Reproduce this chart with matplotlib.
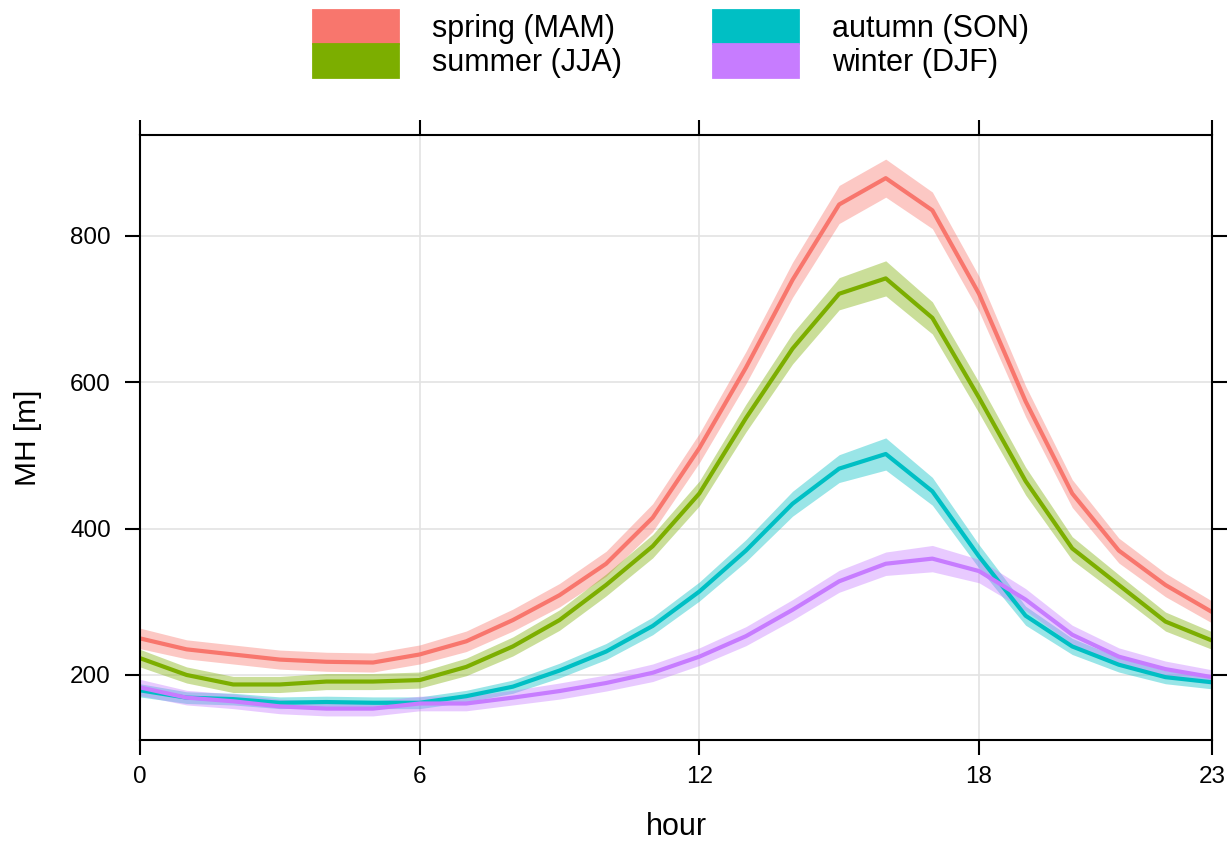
import numpy as np
import matplotlib.pyplot as plt
from matplotlib.patches import Patch

hours = list(range(24))

spring = [250, 235, 228, 221, 218, 217, 228, 246, 275, 309, 352, 415,
          510, 620, 740, 843, 879, 835, 721, 574, 448, 370, 323, 286]
summer = [223, 200, 187, 187, 191, 191, 193, 211, 239, 275, 323, 376,
          448, 551, 646, 721, 742, 688, 579, 465, 373, 323, 273, 247]
autumn = [179, 169, 167, 162, 163, 162, 162, 171, 184, 206, 232, 267,
          314, 370, 434, 482, 502, 451, 362, 281, 239, 214, 197, 190]
winter = [183, 169, 164, 157, 154, 154, 161, 161, 169, 178, 189, 203,
          225, 253, 289, 328, 352, 359, 342, 303, 255, 225, 208, 197]

# half widths of the confidence bands
spring_ci = [14, 13, 13, 13, 13, 13, 13, 14, 15, 16, 17, 19,
             20, 22, 24, 26, 26, 25, 24, 21, 19, 17, 16, 15]
summer_ci = [12, 11, 11, 11, 11, 11, 11, 12, 13, 14, 15, 16,
             17, 19, 21, 22, 24, 22, 21, 19, 16, 14, 13, 12]
autumn_ci = [9, 8, 8, 8, 8, 8, 8, 8, 9, 10, 11, 12,
             13, 15, 17, 19, 22, 19, 16, 13, 11, 10, 9, 9]
winter_ci = [11, 10, 10, 10, 10, 10, 10, 10, 10, 11, 11, 12,
             12, 13, 14, 15, 16, 18, 16, 15, 13, 12, 11, 10]

labels = ["spring (MAM)", "summer (JJA)", "autumn (SON)", "winter (DJF)"]
colors = ["#F8766D", "#7CAE00", "#00BFC4", "#C77CFF"]

series = [(spring, spring_ci), (summer, summer_ci), (autumn, autumn_ci), (winter, winter_ci)]

plt.rcParams['font.family'] = ['Liberation Sans', 'DejaVu Sans']

fig = plt.figure(figsize=(12.3, 8.41), dpi=100)
ax = fig.add_axes([0.1138, 0.120, 0.8716, 0.7195])

for (vals, ci), col in zip(series, colors):
    v = np.array(vals)
    c = np.array(ci)
    ax.fill_between(hours, v - c, v + c, color=col, alpha=0.4, lw=0)
for (vals, ci), col in zip(series, colors):
    ax.plot(hours, vals, color=col, lw=3)

ax.set_xlim(0, 23)
ax.set_ylim(111, 938)
ax.set_xticks([0, 6, 12, 18, 23])
ax.set_yticks([200, 400, 600, 800])
ax.grid(True, color='#e3e3e3', lw=1.2)
ax.set_axisbelow(True)

for s in ax.spines.values():
    s.set_linewidth(1.5)
ax.tick_params(axis='both', which='both', direction='out', length=11, width=1.5,
               top=True, right=True, labelsize=17.5)
ax.tick_params(axis='y', pad=10)
ax.tick_params(axis='x', pad=8)

ax.set_xlabel("hour", fontsize=22, labelpad=17)
ax.set_ylabel("MH [m]", fontsize=21.5, labelpad=20)

# edge in the same colour closes the small gap between stacked keys
handles = [Patch(facecolor=c, edgecolor=c, lw=2) for c in colors]
fig.legend(handles, labels, loc='upper center', bbox_to_anchor=(0.5455, 1 - 10 / 841),
           ncol=2, frameon=False, fontsize=22, handlelength=2.78,
           handleheight=1.3, labelspacing=0, handletextpad=1.1,
           columnspacing=3.0, borderpad=0, borderaxespad=0)

plt.savefig('out.png', dpi=100)
